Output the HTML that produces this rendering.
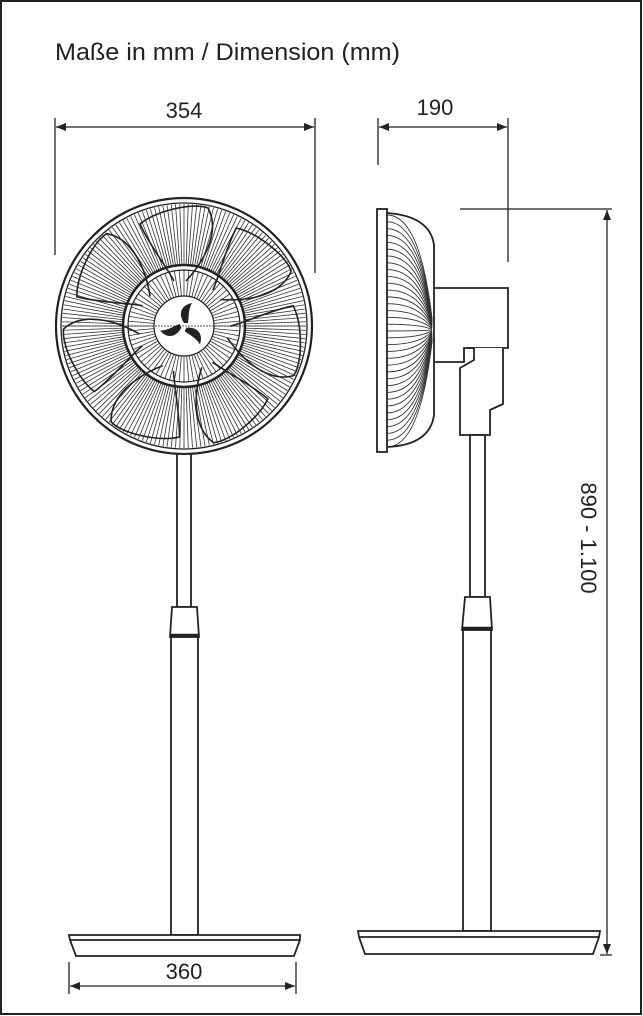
<!DOCTYPE html>
<html><head><meta charset="utf-8"><style>
html,body{margin:0;padding:0;background:#fff}
svg{display:block}
text{font-family:"Liberation Sans",sans-serif;fill:#222}
</style></head><body>
<svg id="s" width="643" height="1016" viewBox="0 0 643 1016" xmlns="http://www.w3.org/2000/svg">
<defs>
<marker id="a" markerWidth="10" markerHeight="8" refX="10" refY="4" orient="auto-start-reverse" markerUnits="userSpaceOnUse"><path d="M0,0 L10,4 L0,8 Z" fill="#222"/></marker>
<clipPath id="fc"><circle cx="184" cy="326" r="122"/></clipPath>
<clipPath id="sc"><path d="M387,213 Q430,216 434,245 L434,415 Q430,445 387,447 Z"/></clipPath>
</defs>
<rect x="1" y="1" width="640" height="1013" fill="none" stroke="#222" stroke-width="2"/>
<text x="55" y="60" font-size="24" textLength="345" lengthAdjust="spacingAndGlyphs">Maße in mm / Dimension (mm)</text>

<g stroke="#222" stroke-width="1.3" fill="none">
<line x1="55" y1="118" x2="55" y2="255"/><line x1="315" y1="118" x2="315" y2="273"/>
<line x1="56" y1="127" x2="314" y2="127" marker-start="url(#a)" marker-end="url(#a)"/>
<line x1="378" y1="118" x2="378" y2="165"/><line x1="508" y1="118" x2="508" y2="262"/>
<line x1="379" y1="127" x2="507" y2="127" marker-start="url(#a)" marker-end="url(#a)"/>
<line x1="460" y1="209" x2="612" y2="209"/>
<line x1="600" y1="955" x2="612" y2="955"/>
<line x1="607" y1="210" x2="607" y2="954" marker-start="url(#a)" marker-end="url(#a)"/>
<line x1="69" y1="962" x2="69" y2="994"/><line x1="296" y1="962" x2="296" y2="994"/>
<line x1="70" y1="986" x2="295" y2="986" marker-start="url(#a)" marker-end="url(#a)"/>
</g>
<text x="184" y="118" font-size="22" text-anchor="middle">354</text>
<text x="435" y="115" font-size="22" text-anchor="middle">190</text>
<text x="184" y="979" font-size="22" text-anchor="middle">360</text>
<text transform="translate(581,538) rotate(90)" font-size="22" text-anchor="middle">890 - 1.100</text>

<g id="grille" clip-path="url(#fc)" stroke="#333" stroke-width="0.8"></g>
<g stroke="#222" fill="none">
<circle cx="184" cy="326" r="128" stroke-width="2.2"/>
<circle cx="184" cy="326" r="123" stroke-width="1.3"/>
<g id="blades" stroke-width="1.6"></g>
<circle cx="184" cy="326" r="61" stroke-width="2.5"/>
<circle cx="184" cy="326" r="56" stroke-width="1.2"/>
<circle cx="184" cy="326" r="30" fill="#fff" stroke-width="1.2"/>
<line x1="62" y1="326" x2="306" y2="326" stroke-width="0.8" stroke-dasharray="2,1"/>
</g>
<g id="logo" fill="#222"></g>

<g stroke="#222" stroke-width="1.8" fill="#fff">
<rect x="177" y="454" width="14" height="153"/>
<path d="M172,607 L197,607 L199,637 L170,637 Z"/>
<line x1="170" y1="635" x2="199" y2="635" stroke-width="2.5"/>
<rect x="171" y="637" width="27" height="298"/>
<path d="M69,935 L300,935 L300,940 L294,956 L76,956 L70,940 Z"/>
<line x1="70" y1="940" x2="300" y2="940"/>
</g>

<g id="sgrille" clip-path="url(#sc)" stroke="#333" stroke-width="0.9" fill="none"></g>
<g stroke="#222" stroke-width="1.8" fill="none">
<path d="M387,213 Q430,216 434,245 L434,415 Q430,445 387,447"/>
<rect x="377" y="209" width="10" height="243" fill="#fff"/>
<path d="M435,288 L508,288 L508,348 L464,348 L464,362 L435,362" fill="#fff"/>
<path d="M467,348 L474,348 L474,360 L460,368 L460,435 L490,435 L490,410 L503,404 L503,348" fill="#fff"/>
</g>
<g stroke="#222" stroke-width="1.8" fill="#fff">
<rect x="470" y="435" width="15" height="162"/>
<path d="M465,597 L490,597 L492,630 L462,630 Z"/>
<line x1="462" y1="628" x2="492" y2="628" stroke-width="2.5"/>
<rect x="463" y="630" width="28" height="301"/>
<path d="M358,931 L600,931 L599,937 L593,954 L365,954 L359,937 Z"/>
<line x1="359" y1="937" x2="599" y2="937"/>
</g>
</svg>
<script>
var NS="http://www.w3.org/2000/svg";
function el(p,t,a){var e=document.createElementNS(NS,t);for(var k in a)e.setAttribute(k,a[k]);p.appendChild(e);return e;}
var g=document.getElementById('grille'),cx=184,cy=326;
for(var i=0;i<180;i++){var t=i/180*2*Math.PI;
 el(g,'line',{x1:cx+60*Math.cos(t),y1:cy+60*Math.sin(t),x2:cx+125*Math.cos(t),y2:cy+125*Math.sin(t)});}
for(var i=0;i<72;i++){var t=i/72*2*Math.PI;
 el(g,'line',{x1:cx+30*Math.cos(t),y1:cy+30*Math.sin(t),x2:cx+56*Math.cos(t),y2:cy+56*Math.sin(t)});}
var b=document.getElementById('blades');
for(var i=0;i<7;i++){
 el(b,'path',{d:"M2,-45 C25,-70 35,-98 24,-118 C8,-124 -28,-115 -44,-102 C-34,-80 -18,-60 -10,-45",transform:"translate(184,326) rotate("+(i*360/7)+")"});}
var l=document.getElementById('logo');
for(var i=0;i<3;i++){
 el(l,'path',{d:"M0,-3 C-6,-12 -3,-21 8,-23 C4,-16 5,-9 4,-3 Z",transform:"translate(184,326) rotate("+(i*120)+")"});}
var s=document.getElementById('sgrille');
for(var i=0;i<=34;i++){var y=215+i*232/34;
 el(s,'path',{d:"M387,"+y+" Q420,"+y+" 432,"+(330+(y-330)*0.1)});}
</script>
</body></html>
